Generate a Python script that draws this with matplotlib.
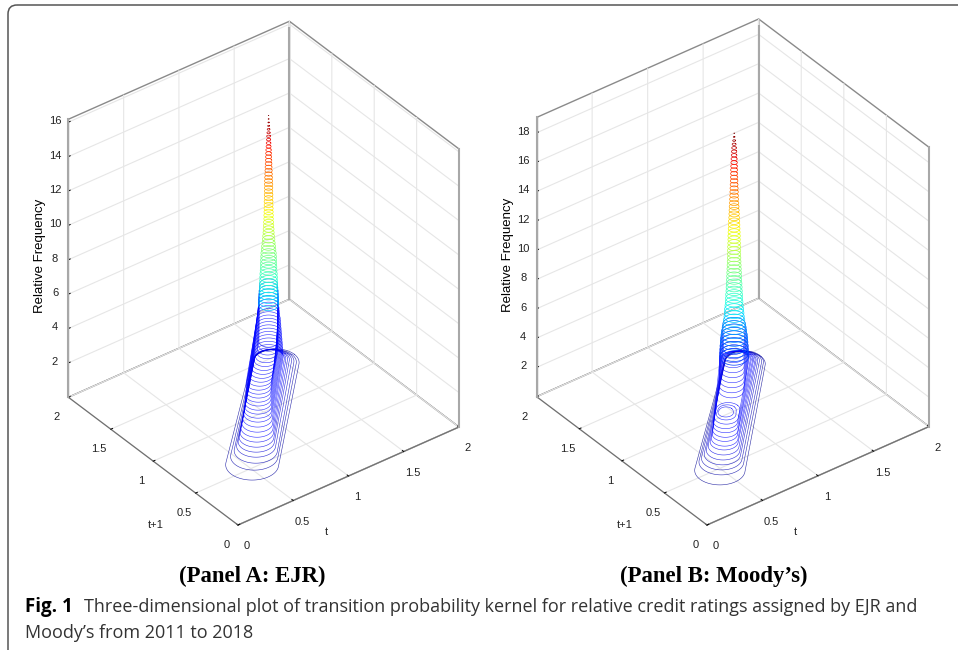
import numpy as np
import matplotlib
matplotlib.use('Agg')
import matplotlib.pyplot as plt
from matplotlib.patches import FancyBboxPatch
from mpl_toolkits.mplot3d import proj3d

# Panel A: EJR - contour rings of the lower ridge (centre on the diagonal + offset)
a_levels = [0.4, 0.6, 0.8, 1.0, 1.2, 1.4, 1.6, 1.8, 2.0, 2.2, 2.4, 2.6, 2.8, 3.0, 3.2, 3.4, 3.6, 3.8, 4.0, 4.2, 4.4, 4.6, 4.8, 5.0, 5.2, 5.4, 5.6, 5.8, 6.0, 6.2]
a_low = [0.474, 0.518, 0.539, 0.551, 0.558, 0.568, 0.579, 0.588, 0.599, 0.61, 0.62, 0.623, 0.627, 0.63, 0.635, 0.637, 0.643, 0.647, 0.652, 0.656, 0.66, 0.663, 0.667, 0.67, 0.674, 0.677, 0.681, 0.682, 0.684, 0.688]
a_low_off = [0.01, 0.015, 0.02, 0.02, 0.02, 0.02, 0.02, 0.02, 0.02, 0.02, 0.02, 0.02, 0.02, 0.02, 0.02, 0.02, 0.02, 0.02, 0.02, 0.025, 0.03, 0.035, 0.04, 0.045, 0.05, 0.055, 0.06, 0.062, 0.065, 0.065]
a_low_r = [0.19, 0.17, 0.155, 0.14, 0.13, 0.125, 0.12, 0.115, 0.11, 0.105, 0.10, 0.098, 0.096, 0.094, 0.092, 0.09, 0.09, 0.09, 0.09, 0.088, 0.086, 0.084, 0.082, 0.08, 0.078, 0.076, 0.074, 0.072, 0.07, 0.068]
a_high = [1.38, 1.354, 1.33, 1.307, 1.283, 1.258, 1.231, 1.204, 1.19, 1.19, 1.19, 1.19, 1.19, 1.19, 1.19, 1.19, 1.19, 1.19, 1.19, 1.19, 1.19, 1.19, 1.19, 1.19, 1.19, 1.19, 1.19, 1.19, 1.19, 1.19]
a_high_off = [0.01, 0.01, 0.008, 0.006, 0.005, 0.004, 0.003, 0.002, 0, 0, 0, 0, 0, 0, 0, 0, 0, 0, 0, 0, 0, 0, 0, 0, 0, 0, 0, 0, 0, 0]
a_high_r = [0.17, 0.155, 0.145, 0.135, 0.125, 0.118, 0.112, 0.108, 0.105, 0.103, 0.101, 0.10, 0.098, 0.096, 0.094, 0.092, 0.09, 0.088, 0.086, 0.084, 0.08, 0.077, 0.075, 0.072, 0.071, 0.07, 0.069, 0.068, 0.066, 0.065]
# spike rings around the peak
a_peak = 1.19
a_spike_levels = [5.0, 5.2, 5.4, 5.6, 5.8, 6.0, 6.2, 6.4, 6.6, 6.8, 7.0, 7.2, 7.4, 7.6, 7.8, 8.0, 8.2, 8.4, 8.6, 8.8, 9.0, 9.2, 9.4, 9.6, 9.8, 10.0, 10.2, 10.4,
                  10.6, 10.8, 11.0, 11.2, 11.4, 11.6, 11.8, 12.0, 12.2, 12.4, 12.6, 12.8, 13.0, 13.2, 13.4, 13.6, 13.8, 14.0, 14.2, 14.4, 14.6, 14.8, 15.0, 15.2, 15.4, 15.6, 15.8, 16.0]
a_spike_r = [0.072, 0.071, 0.070, 0.069, 0.068, 0.066, 0.065, 0.064, 0.063, 0.062, 0.060, 0.059, 0.058, 0.057, 0.056, 0.055, 0.052, 0.050, 0.047, 0.045, 0.042, 0.040, 0.039, 0.037, 0.036, 0.034, 0.034, 0.033,
             0.033, 0.032, 0.032, 0.031, 0.031, 0.030, 0.030, 0.030, 0.029, 0.028, 0.027, 0.026, 0.025, 0.024, 0.023, 0.022, 0.021, 0.020, 0.018, 0.017, 0.015, 0.014, 0.012, 0.010, 0.007, 0.005, 0.003, 0.001]

# Panel B: Moody's - long rings, closed rings of the low mode, then rings climbing to the spike
b_levels = [0.35, 0.6, 0.85, 1.1, 1.35, 1.6, 1.85, 2.1, 2.35, 2.6, 2.85, 3.1, 3.35, 3.6, 3.85,
            3.35, 3.6, 3.85, 4.1, 4.35, 4.6, 4.85, 5.1, 5.35, 5.6]
b_low = [0.438, 0.48, 0.481, 0.483, 0.487, 0.492, 0.497, 0.495, 0.501, 0.505, 0.512, 0.514, 0.521, 0.515, 0.498,
         0.756, 0.767, 0.778, 0.788, 0.799, 0.809, 0.819, 0.83, 0.831, 0.834]
b_low_off = [0.008, 0.01, 0.012, 0.015, 0.018, 0.02, 0.022, 0.025, 0.025, 0.027, 0.027, 0.027, 0.03, 0.03, 0.03,
             0.025, 0.025, 0.025, 0.025, 0.025, 0.025, 0.025, 0.025, 0.025, 0.025]
b_low_r = [0.18, 0.16, 0.145, 0.13, 0.12, 0.11, 0.10, 0.095, 0.09, 0.09, 0.088, 0.086, 0.085, 0.07, 0.055,
           0.09, 0.088, 0.086, 0.084, 0.082, 0.08, 0.078, 0.076, 0.074, 0.072]
b_high = [1.378, 1.362, 1.334, 1.308, 1.28, 1.25, 1.219, 1.188, 1.156, 1.124, 1.092, 1.06, 0.59, 0.552, 0.512,
          1.05, 1.05, 1.05, 1.05, 1.05, 1.05, 1.05, 1.05, 1.05, 1.05]
b_high_off = [0.01, 0.01, 0.01, 0.008, 0.008, 0.006, 0.006, 0.004, 0.004, 0.002, 0.002, 0, 0.03, 0.03, 0.03,
              0, 0, 0, 0, 0, 0, 0, 0, 0, 0]
b_high_r = [0.148, 0.138, 0.13, 0.122, 0.115, 0.112, 0.11, 0.108, 0.107, 0.106, 0.105, 0.104, 0.085, 0.065, 0.05,
            0.103, 0.102, 0.101, 0.10, 0.098, 0.096, 0.093, 0.089, 0.085, 0.08]
b_peak = 1.05
b_spike_levels = [3.35, 3.6, 3.85, 4.1, 4.35, 4.6, 4.85, 5.1, 5.35, 5.6, 5.85, 6.1, 6.35, 6.6, 6.85, 7.1, 7.35, 7.6, 7.85, 8.1, 8.35, 8.6, 8.85, 9.1, 9.35, 9.6, 9.85, 10.1, 10.35, 10.6, 10.85,
                  11.1, 11.35, 11.6, 11.85, 12.1, 12.35, 12.6, 12.85, 13.1, 13.35, 13.6, 13.85, 14.1, 14.35, 14.6, 14.85, 15.1, 15.35, 15.6, 15.85, 16.1, 16.35, 16.6, 16.85, 17.1, 17.35, 17.6, 17.85, 18.1, 18.35, 18.6]
b_spike_r = [0.103, 0.102, 0.101, 0.100, 0.098, 0.096, 0.093, 0.089, 0.085, 0.080, 0.076, 0.072, 0.070, 0.068, 0.065, 0.063, 0.061, 0.060, 0.058, 0.057, 0.056, 0.054, 0.053, 0.052, 0.051, 0.050, 0.049, 0.048, 0.047, 0.047, 0.046,
             0.045, 0.044, 0.044, 0.043, 0.042, 0.041, 0.040, 0.038, 0.037, 0.036, 0.035, 0.033, 0.032, 0.031, 0.030, 0.029, 0.028, 0.027, 0.026, 0.025, 0.025, 0.024, 0.023, 0.022, 0.020, 0.019, 0.017, 0.014, 0.010, 0.006, 0.002]

xy_ticks = [0, 0.5, 1, 1.5, 2]
xy_ticklabels = ['0', '0.5', '1', '1.5', '2']
a_zticks = [2, 4, 6, 8, 10, 12, 14, 16]
b_zticks = [2, 4, 6, 8, 10, 12, 14, 16, 18]

W, H = 958, 650
plt.rcParams['font.family'] = ['Liberation Sans', 'DejaVu Sans']
fig = plt.figure(figsize=(W / 100, H / 100), dpi=100, facecolor='white')

# overlay in pixel coordinates for the frame and the caption
page = fig.add_axes([0, 0, 1, 1], zorder=-1)
page.set_xlim(0, W)
page.set_ylim(H, 0)
page.axis('off')
page.add_patch(FancyBboxPatch((17, 14), 1000, 660, boxstyle='round,pad=9,rounding_size=9',
                              fc='none', ec='#555555', lw=1.1))
page.text(252, 582, '(Panel A: EJR)', family='Liberation Serif', weight='bold', size=16.4, ha='center', color='black')
page.text(714, 582, '(Panel B: Moody\u2019s)', family='Liberation Serif', weight='bold', size=16.4, ha='center', color='black')
page.text(25, 612, 'Fig. 1', family='Open Sans', weight='bold', size=13.5, color='black')
page.text(84, 612, 'Three-dimensional plot of transition probability kernel for relative credit ratings assigned by EJR and',
          family='Open Sans', size=13.0, color='#333333')
page.text(25, 638, 'Moody\u2019s from 2011 to 2018', family='Open Sans', size=13.0, color='#333333')

ang = np.linspace(0, 2 * np.pi, 121)
ux, uy = np.cos(ang), np.sin(ang)


def ring(t0, s0, r0, t1, s1, r1):
    # outline around two circles
    first = t0 * ux + s0 * uy + r0 >= t1 * ux + s1 * uy + r1
    return np.where(first, t0 + r0 * ux, t1 + r1 * ux), np.where(first, s0 + r0 * uy, s1 + r1 * uy)


def to_pixels(ax, x, y, z):
    xs, ys, _ = proj3d.proj_transform(x, y, z, ax.get_proj())
    px, py = ax.transData.transform((xs, ys))
    return px, H - py


def panel(front, right, ztop, zticks, levels, low, low_off, low_r, high, high_off, high_r,
          peak, spike_levels, spike_r):
    ax = fig.add_axes([0.1, 0.1, 500 / W, 500 / H], projection='3d', proj_type='ortho')
    ax.patch.set_facecolor('none')
    ax.view_init(elev=35.3, azim=-127.5)
    ax.set_xlim(0, 2, view_margin=0)
    ax.set_ylim(0, 2, view_margin=0)
    ax.set_zlim(0, ztop, view_margin=0)
    ax.set_box_aspect((278, 278, 340), zoom=1)

    zmax = max(spike_levels)
    # the rings of the ridge stay blue
    for z, d0, e0, r0, d1, e1, r1 in zip(levels, low, low_off, low_r, high, high_off, high_r):
        x, y = ring(d0 + e0, d0 - e0, r0, d1 + e1, d1 - e1, r1)
        ax.plot(x, y, z, color=plt.cm.jet(min(z / zmax, 0.13)), lw=0.42, alpha=0.8)
    for z, r in zip(spike_levels, spike_r):
        x, y = ring(peak, peak, r, peak, peak, r)
        ax.plot(x, y, z, color=plt.cm.jet(z / zmax), lw=0.5)

    # the three upright box edges are heavier in the original
    for cx, cy in [(0, 2), (2, 2), (2, 0)]:
        ax.plot([cx, cx], [cy, cy], [0, ztop], color='#a8a8a8', lw=1.5, zorder=0)

    ax.set_xticks(xy_ticks)
    ax.set_xticklabels(xy_ticklabels)
    ax.set_yticks(xy_ticks)
    ax.set_yticklabels(xy_ticklabels)
    ax.set_zticks(zticks)
    ax.set_zticklabels([str(v) for v in zticks])
    ax.tick_params(labelsize=8, labelcolor='#222222')
    ax.tick_params(axis='x', pad=2)
    ax.tick_params(axis='y', pad=2)
    ax.tick_params(axis='z', pad=-1.5)
    for lab in ax.get_xticklabels() + ax.get_yticklabels() + ax.get_zticklabels():
        lab.set_va('center')
        lab.set_ha('center')

    for axis in (ax.xaxis, ax.yaxis, ax.zaxis):
        axis.set_pane_color((1, 1, 1, 1))
        axis.pane.set_edgecolor('#8a8a8a')
        axis.pane.set_linewidth(1.0)
        axis.line.set_color('#707070')
        axis.line.set_linewidth(0.9)
        axis._axinfo['grid'].update(color='#e6e6e6', linewidth=0.8)
        axis._axinfo['tick'].update(inward_factor=0, outward_factor=0.1, color='#707070',
                                    linewidth={True: 0.7, False: 0.5})
        axis.set_rotate_label(False)

    ax.set_zlabel('Relative Frequency', size=9.5, labelpad=-7, rotation=90)
    page.text(front[0] + 88, front[1] + 7, 't', size=8, ha='center', va='center', color='#222222')
    page.text(front[0] - 82, front[1], 't+1', size=8, ha='center', va='center', color='#222222')

    # fit the box on the page: scale first, then shift
    pos = ax.get_position()
    fig.canvas.draw()
    x0, y0 = to_pixels(ax, 0, 0, 0)
    x1, y1 = to_pixels(ax, 2, 0, 0)
    k = (right[0] - front[0]) / (x1 - x0)
    ax.set_position([pos.x0, pos.y0, pos.width * k, pos.height * k])
    fig.canvas.draw()
    x0, y0 = to_pixels(ax, 0, 0, 0)
    pos = ax.get_position()
    ax.set_position([pos.x0 + (front[0] - x0) / W, pos.y0 - (front[1] - y0) / H, pos.width, pos.height])
    return ax


panel((238, 525), (459, 427), 16.17, a_zticks, a_levels, a_low, a_low_off, a_low_r, a_high, a_high_off, a_high_r,
      a_peak, a_spike_levels, a_spike_r)
panel((707, 525), (929, 427), 19.05, b_zticks, b_levels, b_low, b_low_off, b_low_r, b_high, b_high_off, b_high_r,
      b_peak, b_spike_levels, b_spike_r)

fig.savefig('out.png', dpi=100)
